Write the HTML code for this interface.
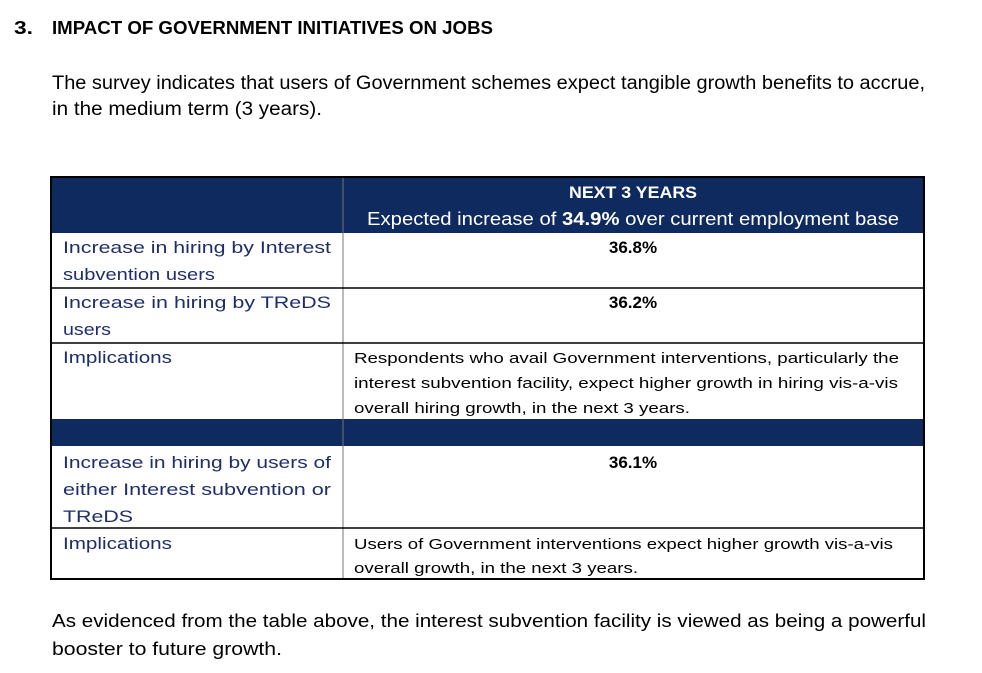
<!DOCTYPE html>
<html><head><meta charset="utf-8"><style>
html,body{margin:0;padding:0;background:#fff;}
svg{display:block;font-family:"Liberation Sans",sans-serif;}
</style></head><body>
<svg width="982" height="673" viewBox="0 0 982 673">
<g font-weight="bold" font-size="18" fill="#000">
<text x="14" y="34" textLength="19" lengthAdjust="spacingAndGlyphs">3.</text>
<text x="52" y="34" textLength="441" lengthAdjust="spacingAndGlyphs">IMPACT OF GOVERNMENT INITIATIVES ON JOBS</text>
</g>
<g font-size="19" fill="#000">
<text x="52" y="89" textLength="873" lengthAdjust="spacingAndGlyphs">The survey indicates that users of Government schemes expect tangible growth benefits to accrue,</text>
<text x="52" y="115" textLength="270" lengthAdjust="spacingAndGlyphs">in the medium term (3 years).</text>
</g>
<g>
<rect x="51" y="177" width="873" height="56" fill="#0f2a5e"/>
<rect x="51" y="419" width="873" height="27" fill="#0f2a5e"/>
<g stroke="#777" stroke-width="1">
<line x1="343" y1="177" x2="343" y2="579"/>
<line x1="51" y1="288" x2="924" y2="288" stroke="#000" stroke-width="1.5"/>
<line x1="51" y1="343" x2="924" y2="343" stroke="#000" stroke-width="1.5"/>
<line x1="51" y1="528" x2="924" y2="528" stroke="#000" stroke-width="1.5"/>
</g>
<rect x="51" y="177" width="873" height="402" fill="none" stroke="#000" stroke-width="2"/>
<g fill="#fff">
<text x="633" y="198" font-size="17" font-weight="bold" text-anchor="middle" textLength="128" lengthAdjust="spacingAndGlyphs">NEXT 3 YEARS</text>
<text x="367" y="225" font-size="18" textLength="532" lengthAdjust="spacingAndGlyphs">Expected increase of <tspan font-weight="bold">34.9%</tspan> over current employment base</text>
</g>
<g fill="#1f2d6b" font-size="17">
<text x="63" y="253" textLength="268" lengthAdjust="spacingAndGlyphs">Increase in hiring by Interest</text>
<text x="63" y="280" textLength="152" lengthAdjust="spacingAndGlyphs">subvention users</text>
<text x="63" y="308" textLength="268" lengthAdjust="spacingAndGlyphs">Increase in hiring by TReDS</text>
<text x="63" y="335" textLength="48" lengthAdjust="spacingAndGlyphs">users</text>
<text x="63" y="363" textLength="109" lengthAdjust="spacingAndGlyphs">Implications</text>
<text x="63" y="468" textLength="268" lengthAdjust="spacingAndGlyphs">Increase in hiring by users of</text>
<text x="63" y="495" textLength="268" lengthAdjust="spacingAndGlyphs">either Interest subvention or</text>
<text x="63" y="522" textLength="70" lengthAdjust="spacingAndGlyphs">TReDS</text>
<text x="63" y="549" textLength="109" lengthAdjust="spacingAndGlyphs">Implications</text>
</g>
<g fill="#000" font-size="17" font-weight="bold" text-anchor="middle">
<text x="633" y="253">36.8%</text>
<text x="633" y="308">36.2%</text>
<text x="633" y="468">36.1%</text>
</g>
<g fill="#000" font-size="15">
<text x="354" y="363" textLength="545" lengthAdjust="spacingAndGlyphs">Respondents who avail Government interventions, particularly the</text>
<text x="354" y="388" textLength="544" lengthAdjust="spacingAndGlyphs">interest subvention facility, expect higher growth in hiring vis-a-vis</text>
<text x="354" y="413" textLength="336" lengthAdjust="spacingAndGlyphs">overall hiring growth, in the next 3 years.</text>
<text x="354" y="549" textLength="539" lengthAdjust="spacingAndGlyphs">Users of Government interventions expect higher growth vis-a-vis</text>
<text x="354" y="573" textLength="284" lengthAdjust="spacingAndGlyphs">overall growth, in the next 3 years.</text>
</g>
</g>
<g font-size="18" fill="#000">
<text x="52" y="627" textLength="874" lengthAdjust="spacingAndGlyphs">As evidenced from the table above, the interest subvention facility is viewed as being a powerful</text>
<text x="52" y="655" textLength="230" lengthAdjust="spacingAndGlyphs">booster to future growth.</text>
</g>
</svg>
</body></html>
